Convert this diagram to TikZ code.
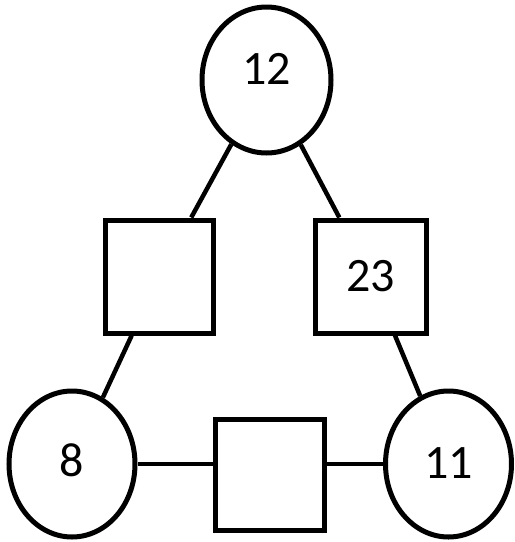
\documentclass[tikz,border=0pt]{standalone}
\usepackage{fontspec}
\setmainfont{Carlito}
\usetikzlibrary{shapes.geometric}

\begin{document}
\begin{tikzpicture}[x=1pt, y=-1pt, font=\fontsize{48}{58}\selectfont]
\tikzstyle{ring} = [draw, ellipse, line width=5pt, inner sep=0pt, minimum width=126pt, minimum height=146pt]
\tikzstyle{box} = [draw, rectangle, line width=5pt, inner sep=0pt, minimum width=110pt, minimum height=113pt]
\tikzstyle{link} = [line width=4.5pt]
\useasboundingbox (0,0) rectangle (515,542);
\node[ring, minimum width=129pt, label={[yshift=11pt]center:12}] (v_top) at (266.5,80) {};
\node[ring, label={[yshift=4pt]center:8}] (v_bl) at (72,464) {};
\node[ring, label={[yshift=1pt]center:11}] (v_br) at (448.5,464) {};
\node[box, minimum width=108pt] (v_left) at (159,276.5) {};
\node[box, minimum width=111pt] (v_right) at (370.5,276.5) {23};
\node[box, minimum width=109pt, minimum height=111pt] (v_bot) at (269.5,474.5) {};
\draw[link] (v_top) -- (v_left);
\draw[link] (v_top) -- (v_right);
\draw[link] (v_left) -- (v_bl);
\draw[link] (v_right) -- (v_br);
\draw[link] (v_bl.east) -- (v_bl.east -| v_bot.west);
\draw[link] (v_bot.east |- v_br.west) -- (v_br.west);
\end{tikzpicture}
\end{document}
